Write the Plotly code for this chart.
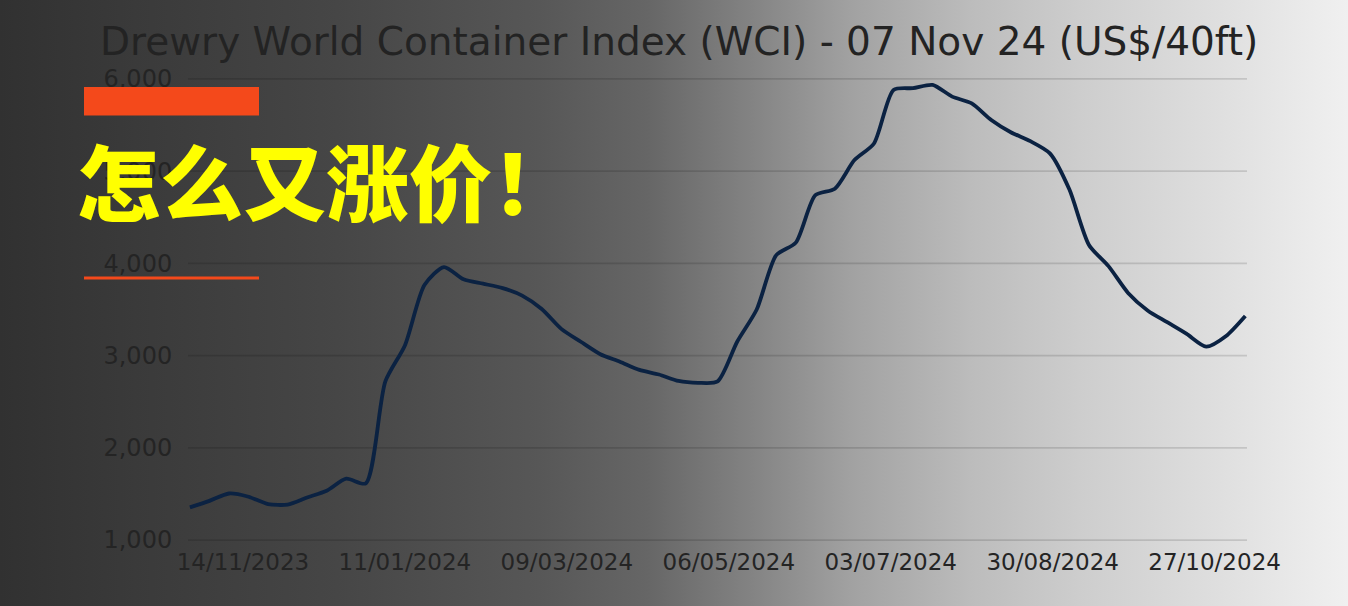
import base64
import plotly.graph_objects as go

# ---------------- data ----------------
dates = [
    "2023-10-26", "2023-11-02", "2023-11-09", "2023-11-16", "2023-11-23", "2023-11-30",
    "2023-12-07", "2023-12-14", "2023-12-21", "2023-12-28", "2024-01-04", "2024-01-11",
    "2024-01-18", "2024-01-25", "2024-02-01", "2024-02-08", "2024-02-15", "2024-02-22",
    "2024-02-29", "2024-03-07", "2024-03-14", "2024-03-21", "2024-03-28", "2024-04-04",
    "2024-04-11", "2024-04-18", "2024-04-25", "2024-05-02", "2024-05-09", "2024-05-16",
    "2024-05-23", "2024-05-30", "2024-06-06", "2024-06-13", "2024-06-20", "2024-06-27",
    "2024-07-04", "2024-07-11", "2024-07-18", "2024-07-25", "2024-08-01", "2024-08-08",
    "2024-08-15", "2024-08-22", "2024-08-29", "2024-09-05", "2024-09-12", "2024-09-19",
    "2024-09-26", "2024-10-03", "2024-10-10", "2024-10-17", "2024-10-24", "2024-10-31",
    "2024-11-07",
]
wci = [
    1355, 1425, 1505, 1470, 1390, 1385,
    1462, 1535, 1665, 1615, 2720, 3110,
    3765, 3960, 3827, 3780, 3732, 3650,
    3505, 3290, 3150, 3015, 2934, 2845,
    2795, 2725, 2705, 2720, 3150, 3500,
    4090, 4225, 4740, 4810, 5120, 5300,
    5880, 5900, 5935, 5808, 5735, 5555,
    5422, 5325, 5193, 4800, 4200, 3970,
    3680, 3490, 3362, 3235, 3097, 3210,
    3430,
]
tick_dates = ["2023-11-14", "2024-01-11", "2024-03-09", "2024-05-06",
              "2024-07-03", "2024-08-30", "2024-10-27"]
tick_labels = ["14/11/2023", "11/01/2024", "09/03/2024", "06/05/2024",
               "03/07/2024", "30/08/2024", "27/10/2024"]
y_ticks = [1000, 2000, 3000, 4000, 5000, 6000]

title_text = "Drewry World Container Index (WCI) - 07 Nov 24 (US$/40ft)"
headline = "怎么又涨价！"

# ---------------- layout geometry ----------------
W, H = 1348, 606
ML, MR, MT, MB = 188, 101, 78, 65
PW, PH = W - ML - MR, H - MT - MB


def px_x(p):
    return (p - ML) / PW


def px_y(p):
    return (H - MB - p) / PH


# background gradient as an inline SVG image
stops = [(0.00, "#313131"), (0.10, "#3a3a3a"), (0.25, "#464646"), (0.40, "#575757"),
         (0.48, "#666666"), (0.56, "#848484"), (0.63, "#a1a1a1"), (0.72, "#bcbcbc"),
         (0.80, "#cdcdcd"), (0.90, "#dedede"), (1.00, "#f0f0f0")]
stop_xml = "".join(f'<stop offset="{o}" stop-color="{c}"/>' for o, c in stops)
svg = (f'<svg xmlns="http://www.w3.org/2000/svg" width="{W}" height="{H}" '
       f'viewBox="0 0 {W} {H}" preserveAspectRatio="none">'
       f'<defs><linearGradient id="g" x1="0" y1="0" x2="1" y2="0">{stop_xml}'
       f'</linearGradient></defs><rect width="{W}" height="{H}" fill="url(#g)"/></svg>')
bg_src = "data:image/svg+xml;base64," + base64.b64encode(svg.encode()).decode()

fig = go.Figure()
fig.add_trace(go.Scatter(
    x=dates, y=wci, mode="lines",
    line=dict(color="#0b2242", width=3.8, shape="spline", smoothing=0.7),
    hoverinfo="skip", showlegend=False,
))

axis_font = dict(family="DejaVu Sans", size=23, color="#242424")

grid_shapes = [
    dict(type="line", xref="paper", yref="y", x0=0, x1=1, y0=v, y1=v,
         line=dict(color="rgba(0,0,0,0.13)", width=1.6), layer="below")
    for v in y_ticks
]

fig.update_layout(
    width=W, height=H,
    margin=dict(l=ML, r=MR, t=MT, b=MB, pad=0),
    paper_bgcolor="#303030",
    plot_bgcolor="rgba(0,0,0,0)",
    showlegend=False,
    xaxis=dict(
        type="date",
        range=["2023-10-25 07:40", "2024-11-07 14:24"],
        tickmode="array", tickvals=tick_dates, ticktext=tick_labels,
        showgrid=False, zeroline=False, showline=False,
        ticks="", ticklabelstandoff=5,
        tickfont=axis_font, fixedrange=True,
    ),
    yaxis=dict(
        range=[990, 6010],
        tickmode="array", tickvals=y_ticks,
        tickformat=",d",
        showgrid=False, zeroline=False, showline=False,
        ticks="outside", ticklen=10, tickcolor="rgba(0,0,0,0)",
        tickfont=dict(family="DejaVu Sans", size=24, color="#242424"),
        fixedrange=True,
    ),
    images=[dict(
        source=bg_src, xref="paper", yref="paper",
        x=px_x(0), y=px_y(0), sizex=W / PW, sizey=H / PH,
        xanchor="left", yanchor="top", sizing="stretch", layer="below",
    )],
    shapes=grid_shapes + [
        dict(type="rect", xref="paper", yref="paper",
             x0=px_x(84), x1=px_x(259), y0=px_y(115.5), y1=px_y(87),
             fillcolor="#f4491b", line=dict(width=0), layer="above"),
        dict(type="line", xref="paper", yref="paper",
             x0=px_x(84), x1=px_x(259), y0=px_y(278), y1=px_y(278),
             line=dict(color="#f4491b", width=3), layer="above"),
    ],
    annotations=[
        dict(text=title_text, xref="paper", yref="paper",
             x=px_x(98), y=px_y(42), xanchor="left", yanchor="middle",
             showarrow=False,
             font=dict(family="DejaVu Sans", size=39, color="#232323")),
        dict(text=headline, xref="paper", yref="paper",
             x=px_x(75), y=px_y(179), xanchor="left", yanchor="middle",
             showarrow=False,
             font=dict(family="Noto Sans CJK SC", size=83, color="#ffff00",
                       weight=900)),
    ],
)

fig.write_html(
    "out.html",
    config={"displayModeBar": False, "staticPlot": True},
    post_script="document.body.style.margin='0';document.body.style.padding='0';",
)
